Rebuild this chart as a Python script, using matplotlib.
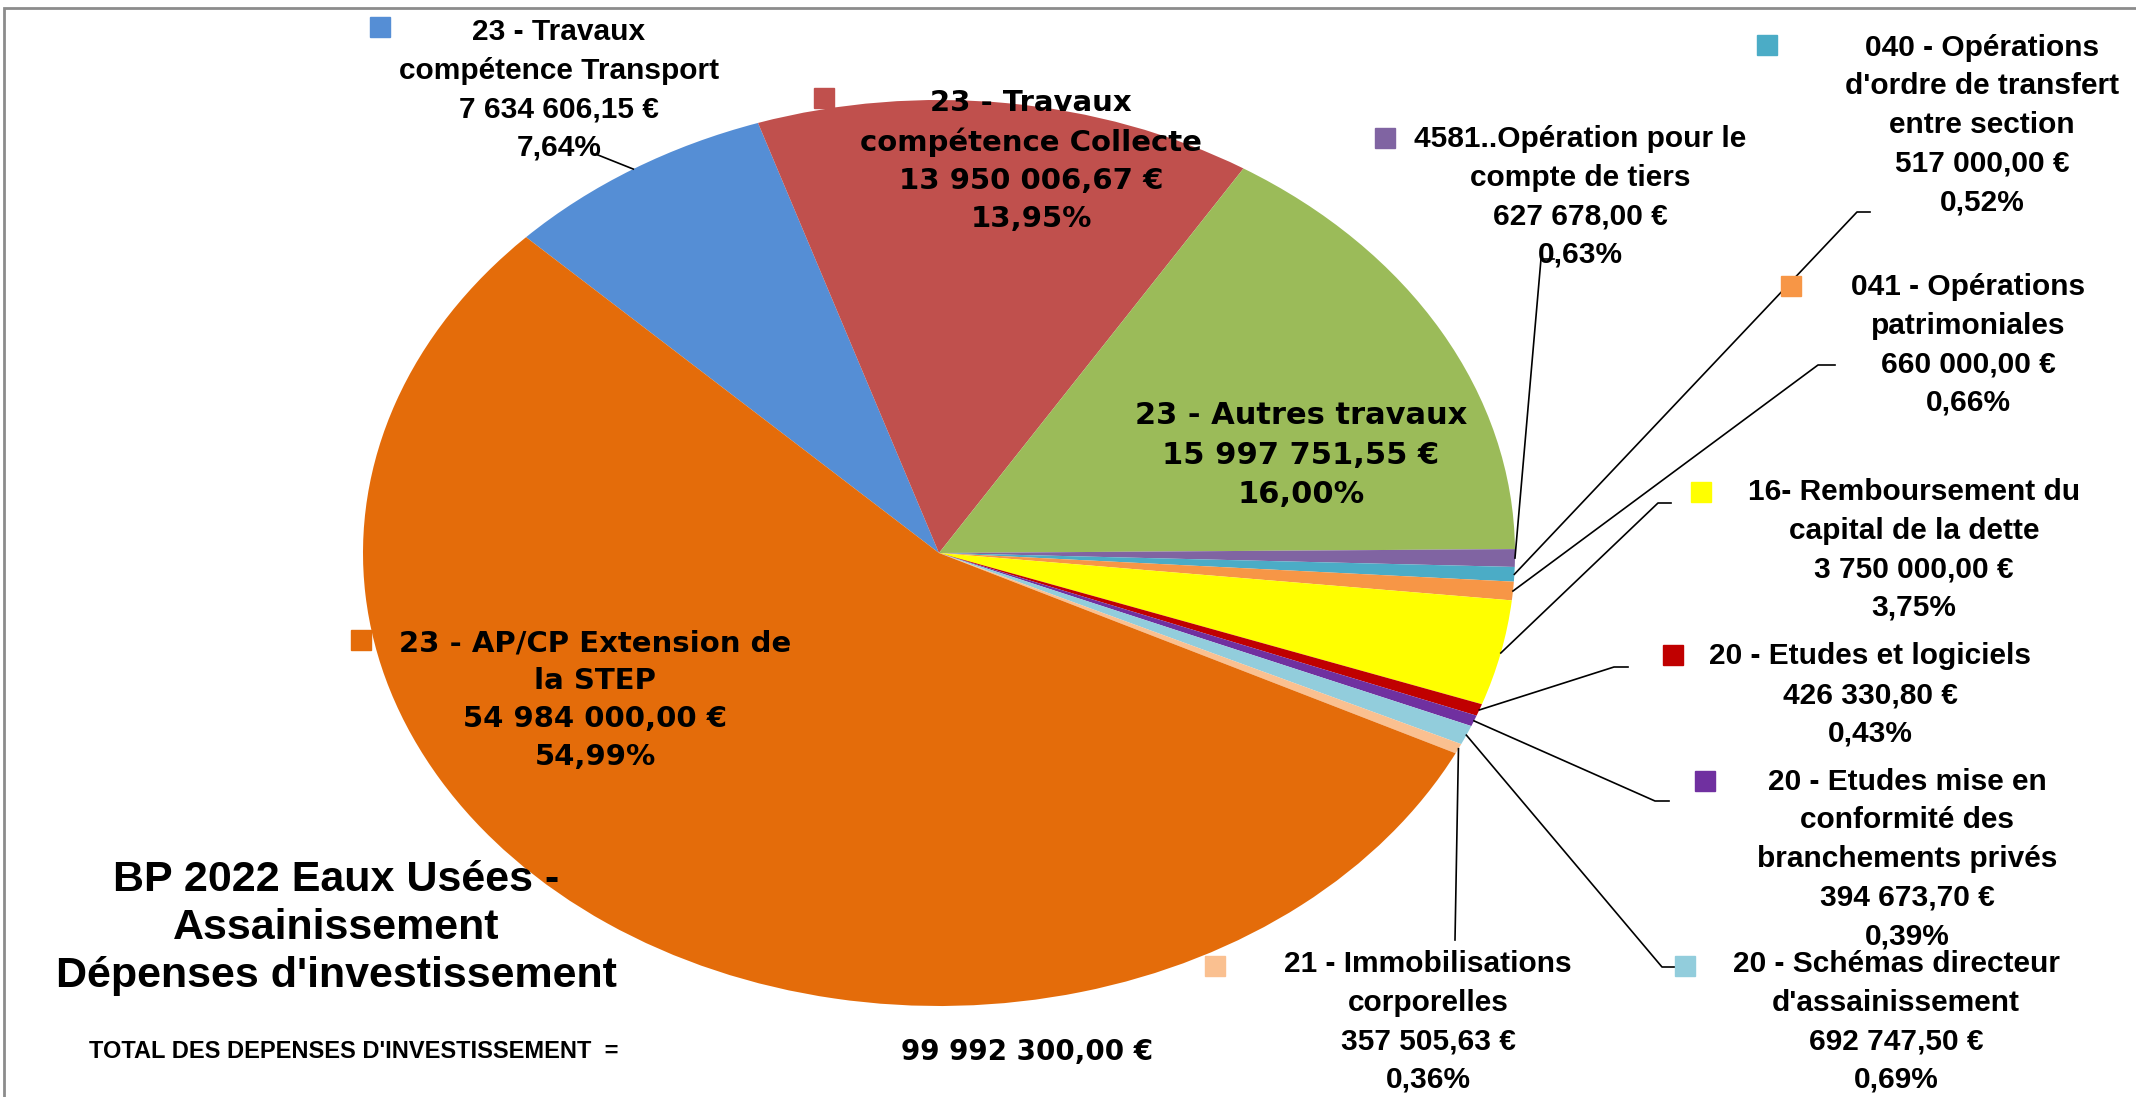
import matplotlib
matplotlib.use("Agg")
import matplotlib.pyplot as plt
from matplotlib.patches import Rectangle
import numpy as np

# données BP 2022 Eaux Usées - dépenses d'investissement
categories = [
    "23 - Travaux\ncompétence Transport",
    "23 - Travaux\ncompétence Collecte",
    "23 - Autres travaux",
    "4581..Opération pour le\ncompte de tiers",
    "040 - Opérations\nd'ordre de transfert\nentre section",
    "041 - Opérations\npatrimoniales",
    "16- Remboursement du\ncapital de la dette",
    "20 - Etudes et logiciels",
    "20 - Etudes mise en\nconformité des\nbranchements privés",
    "20 - Schémas directeur\nd'assainissement",
    "21 - Immobilisations\ncorporelles",
    "23 - AP/CP Extension de\nla STEP",
]
values = [7634606.15, 13950006.67, 15997751.55, 627678.00, 517000.00, 660000.00,
          3750000.00, 426330.80, 394673.70, 692747.50, 357505.63, 54984000.00]
colors = ["#558ed5", "#c0504d", "#9bbb59", "#8064a2", "#4bacc6", "#f79646",
          "#ffff00", "#c00000", "#7030a0", "#92cddc", "#fac090", "#e46c0a"]

total = sum(values)


def fmt_eur(v):
    s = f"{v:,.2f}".replace(",", " ").replace(".", ",")
    return s + " €"


def fmt_pct(v):
    return f"{v / total * 100:.2f}%".replace(".", ",")


# geometrie de l'image (pixels) : le camembert est etire en ellipse
W, H = 2136, 1097
CX, CY, RX, RY = 939, 553, 576, 453


def P(px, py):
    return (px - CX) / RX, (CY - py) / RY


# positions des etiquettes (centre du texte), des carres de legende et des coudes
label_xy = [(559, 90), (1031, 161), (1301, 455), (1580, 197), (1982, 125), (1968, 345),
            (1914, 550), (1870, 695), (1907, 859), (1896, 1022), (1428, 1022), (595, 700)]
key_xy = [(380, 27), (824, 98), (1100, 415), (1385, 138), (1767, 45), (1791, 286),
          (1701, 492), (1673, 655), (1705, 781), (1685, 966), (1215, 966), (361, 640)]
elbows = [[(598, 155)], None, None, [(1541, 259), (1554, 259)], [(1857, 212), (1870, 212)],
          [(1818, 365), (1835, 365)], [(1658, 503), (1671, 503)], [(1614, 667), (1628, 667)],
          [(1655, 801), (1669, 801)], [(1662, 967), (1676, 967)], [(1455, 940)], None]
wide_font = [False, True, True, False, False, False, False, False, False, False, False, True]
wide_size = {1: 21, 2: 22, 11: 21}

plt.rcParams["font.family"] = ["Liberation Sans", "DejaVu Sans"]

fig = plt.figure(figsize=(W / 100, H / 100), dpi=100)
ax = fig.add_axes([0, 0, 1, 1])
wedges, _ = ax.pie(values, colors=colors, startangle=135.8, counterclock=False,
                   wedgeprops=dict(linewidth=0))
ax.set_aspect("auto")
ax.set_xlim((0 - CX) / RX, (W - CX) / RX)
ax.set_ylim((CY - H) / RY, CY / RY)
ax.axis("off")

for i, w in enumerate(wedges):
    txt = categories[i] + "\n" + fmt_eur(values[i]) + "\n" + fmt_pct(values[i])
    x, y = P(*label_xy[i])
    if wide_font[i]:
        ax.text(x, y, txt, ha="center", va="center", fontsize=wide_size[i],
                fontweight="bold", family="DejaVu Sans", linespacing=1.45, zorder=5)
    else:
        ax.text(x, y, txt, ha="center", va="center", fontsize=21.5,
                fontweight="bold", linespacing=1.48, zorder=5)
    kx, ky = P(*key_xy[i])
    ax.plot(kx, ky, marker="s", ms=14, color=colors[i], ls="none", zorder=4)
    if elbows[i] is not None:
        mid = np.radians((w.theta1 + w.theta2) / 2)
        pts = [(np.cos(mid), np.sin(mid))] + [P(*e) for e in elbows[i]]
        ax.plot([p[0] for p in pts], [p[1] for p in pts], color="black", lw=1.2, zorder=3)

# titre et total
tx, ty = P(336, 928)
ax.text(tx, ty, "BP 2022 Eaux Usées -\nAssainissement\nDépenses d'investissement",
        ha="center", va="center", fontsize=31, fontweight="bold", linespacing=1.25, zorder=5)
ax.text(*P(89, 1052), "TOTAL DES DEPENSES D'INVESTISSEMENT  =", ha="left", va="center",
        fontsize=17, fontweight="bold", zorder=5)
ax.text(*P(1027, 1052), fmt_eur(total), ha="center", va="center", fontsize=20,
        fontweight="bold", family="DejaVu Sans", zorder=5)

# cadre gris
x0, y0 = P(4, H + 10)
x1, y1 = P(W + 10, 8)
ax.add_patch(Rectangle((x0, y0), x1 - x0, y1 - y0, fill=False, ec="#8c8c8c", lw=2, clip_on=False))

fig.savefig("out.png", dpi=100)
